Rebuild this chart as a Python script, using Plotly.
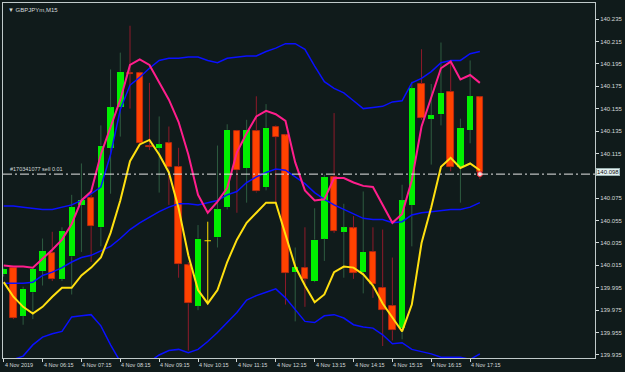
import plotly.graph_objects as go

# ---- data (GBPJPYm, M15, 4 Nov 2019 from 05:15, 15-min bars) ----
opens = [140.007, 140.013, 139.970, 139.991, 140.010, 140.026, 140.003, 140.023, 140.069, 140.075,
         140.049, 140.120, 140.156, 140.187, 140.187, 140.122, 140.120, 140.124, 140.103, 140.015,
         139.979, 140.037, 140.040, 140.067, 140.135, 140.102, 140.135, 140.085, 140.139, 140.131,
         140.009, 140.013, 140.001, 140.039, 140.094, 140.045, 140.048, 140.009, 140.027, 139.995,
         139.979, 139.959, 140.069, 140.177, 140.146, 140.150, 140.170, 140.103, 140.136, 140.165]
highs = [140.013, 140.014, 139.996, 140.013, 140.039, 140.045, 140.049, 140.078, 140.106, 140.078,
         140.140, 140.190, 140.205, 140.229, 140.188, 140.178, 140.148, 140.139, 140.120, 140.018,
         140.051, 140.054, 140.122, 140.141, 140.136, 140.145, 140.166, 140.159, 140.140, 140.132,
         140.031, 140.049, 140.066, 140.096, 140.151, 140.070, 140.059, 140.081, 140.049, 140.047,
         140.022, 140.087, 140.179, 140.208, 140.177, 140.214, 140.196, 140.146, 140.198, 140.166]
lows = [140.005, 139.967, 139.962, 139.967, 139.997, 140.001, 140.001, 139.989, 140.027, 140.018,
        140.032, 140.079, 140.130, 140.155, 140.122, 140.118, 140.080, 140.069, 140.004, 139.939,
        139.975, 139.981, 140.031, 140.065, 140.062, 140.071, 140.080, 140.082, 140.071, 139.980,
        139.965, 139.978, 140.000, 140.019, 140.044, 140.004, 140.003, 139.990, 139.986, 139.943,
        139.948, 139.949, 140.032, 140.145, 140.105, 140.140, 140.099, 140.071, 140.124, 140.092]
closes = [140.012, 139.968, 139.994, 140.012, 140.028, 140.003, 140.046, 140.067, 140.073, 140.050,
          140.122, 140.156, 140.188, 140.186, 140.124, 140.121, 140.123, 140.103, 140.016, 139.981,
          140.039, 140.037, 140.065, 140.136, 140.100, 140.136, 140.081, 140.138, 140.130, 140.008,
          140.014, 140.003, 140.038, 140.094, 140.046, 140.049, 140.008, 140.027, 139.998, 139.975,
          139.957, 140.073, 140.173, 140.147, 140.149, 140.169, 140.103, 140.138, 140.166, 140.098]

bb_upper = [140.068, 140.068, 140.067, 140.066, 140.065, 140.065, 140.067, 140.069, 140.073, 140.079,
            140.085, 140.114, 140.154, 140.176, 140.183, 140.191, 140.198, 140.200, 140.200, 140.201,
            140.201, 140.198, 140.196, 140.200, 140.201, 140.202, 140.202, 140.206, 140.209, 140.213,
            140.213, 140.208, 140.193, 140.179, 140.173, 140.169, 140.162, 140.155, 140.156, 140.157,
            140.161, 140.162, 140.178, 140.182, 140.188, 140.196, 140.198, 140.198, 140.204, 140.206]
bb_middle = [139.999, 139.999, 139.999, 140.000, 140.006, 140.009, 140.013, 140.018, 140.022, 140.024,
             140.028, 140.032, 140.039, 140.047, 140.053, 140.058, 140.063, 140.067, 140.070, 140.070,
             140.069, 140.071, 140.073, 140.078, 140.081, 140.089, 140.094, 140.098, 140.101, 140.100,
             140.094, 140.088, 140.080, 140.074, 140.069, 140.065, 140.061, 140.057, 140.056, 140.056,
             140.053, 140.054, 140.060, 140.062, 140.063, 140.064, 140.065, 140.065, 140.067, 140.071]
bb_lower = [139.926, 139.931, 139.934, 139.944, 139.951, 139.954, 139.956, 139.969, 139.970, 139.971,
            139.961, 139.944, 139.929, 139.922, 139.920, 139.929, 139.935, 139.939, 139.940, 139.937,
            139.940, 139.947, 139.955, 139.964, 139.973, 139.984, 139.988, 139.991, 139.994, 139.986,
            139.975, 139.965, 139.964, 139.970, 139.971, 139.968, 139.962, 139.960, 139.959, 139.953,
            139.945, 139.946, 139.940, 139.938, 139.936, 139.933, 139.933, 139.933, 139.931, 139.936]
ma_pink = [140.015, 140.014, 140.014, 140.013, 140.021, 140.029, 140.038, 140.052, 140.073, 140.081,
           140.114, 140.139, 140.163, 140.194, 140.199, 140.194, 140.178, 140.163, 140.143, 140.114,
           140.078, 140.062, 140.072, 140.084, 140.116, 140.133, 140.148, 140.153, 140.150, 140.144,
           140.107, 140.082, 140.073, 140.074, 140.093, 140.093, 140.089, 140.086, 140.085, 140.069,
           140.053, 140.061, 140.091, 140.139, 140.165, 140.191, 140.197, 140.181, 140.185, 140.178]
ma_yellow = [140.000, 139.987, 139.978, 139.972, 139.978, 139.987, 139.995, 139.995, 140.006, 140.013,
             140.022, 140.044, 140.073, 140.108, 140.123, 140.127, 140.114, 140.098, 140.066, 140.024,
             139.993, 139.981, 139.993, 140.018, 140.038, 140.053, 140.062, 140.071, 140.071, 140.042,
             140.014, 139.997, 139.982, 139.989, 140.009, 140.014, 140.013, 140.007, 139.997, 139.981,
             139.968, 139.956, 139.980, 140.035, 140.067, 140.103, 140.111, 140.102, 140.106, 140.100]

xtick_idx = [0, 4, 8, 12, 16, 20, 24, 28, 32, 36, 40, 44, 48]
xtick_labels = ["4 Nov 2019", "4 Nov 06:15", "4 Nov 07:15", "4 Nov 08:15", "4 Nov 09:15",
                "4 Nov 10:15", "4 Nov 11:15", "4 Nov 12:15", "4 Nov 13:15", "4 Nov 14:15",
                "4 Nov 15:15", "4 Nov 16:15", "4 Nov 17:15"]
ytick_vals = [139.935, 139.955, 139.975, 139.995, 140.015, 140.035, 140.055, 140.075,
              140.095, 140.115, 140.135, 140.155, 140.175, 140.195, 140.215, 140.235]
order_price = 140.0965
bid_price = 140.098
order_label = "#170341077 sell 0.01"
title_text = "GBPJPYm,M15"

BG = "#101b1b"
FG = "#d4dada"
FONT = "Liberation Sans, Arial, sans-serif"
UP_BODY, UP_WICK = "#00f000", "#2e5c40"
DN_BODY, DN_WICK = "#ff4200", "#8e1a2a"
DOJI = "#ffe000"
BW = 0.66

up = dict(x=[], base=[], h=[])
dn = dict(x=[], base=[], h=[])
wick = {"up": ([], []), "dn": ([], []), "doji": ([], [])}
doji_bar = ([], [])
for i, (o, h, l, c) in enumerate(zip(opens, highs, lows, closes)):
    top, bot = max(o, c), min(o, c)
    if c > o:
        key, grp = "up", up
    elif c < o:
        key, grp = "dn", dn
    else:
        key, grp = "doji", None
    wx, wy = wick[key]
    if grp is not None:
        grp["x"].append(i); grp["base"].append(bot); grp["h"].append(top - bot)
        wx += [i, i, None, i, i, None]
        wy += [h, top, None, bot, l, None]
    else:
        wx += [i, i, None]
        wy += [h, l, None]
        doji_bar[0].extend([i - BW / 2, i + BW / 2, None])
        doji_bar[1].extend([o, o, None])

fig = go.Figure()
fig.add_trace(go.Bar(x=up["x"], y=up["h"], base=up["base"], width=BW,
                     marker=dict(color=UP_BODY, line=dict(color=UP_BODY, width=0))))
fig.add_trace(go.Bar(x=dn["x"], y=dn["h"], base=dn["base"], width=BW,
                     marker=dict(color=DN_BODY, line=dict(color="#c52a10", width=0.8))))
for key, col in (("up", UP_WICK), ("dn", DN_WICK), ("doji", DOJI)):
    fig.add_trace(go.Scatter(x=wick[key][0], y=wick[key][1], mode="lines",
                             line=dict(color=col, width=1)))
fig.add_trace(go.Scatter(x=doji_bar[0], y=doji_bar[1], mode="lines", line=dict(color=DOJI, width=1)))

idx = list(range(len(opens)))
for series, col, w in ((bb_upper, "#0a10ff", 1.5), (bb_middle, "#0a10ff", 1.5), (bb_lower, "#0a10ff", 1.5),
                       (ma_pink, "#ff1e8c", 2), (ma_yellow, "#ffe010", 2)):
    fig.add_trace(go.Scatter(x=idx, y=series, mode="lines", line=dict(color=col, width=w)))

# order marker on last bar
fig.add_trace(go.Scatter(x=[idx[-1]], y=[order_price], mode="markers",
                         marker=dict(size=5, color="#f0d0d0", line=dict(color="#ff3040", width=1))))

fig.add_shape(type="line", xref="paper", x0=0, x1=1, yref="y", y0=order_price, y1=order_price,
              line=dict(color="#e6e6e6", width=1, dash="9px,3px,2px,3px"))

ann = []
for xi, t in zip(xtick_idx, xtick_labels):
    ann.append(dict(x=xi, xref="x", y=0, yref="paper", yanchor="top", xanchor="left",
                    yshift=-2, xshift=-1, text=t, showarrow=False,
                    font=dict(family=FONT, size=5.5, color=FG)))
ann.append(dict(x=0, xref="paper", y=order_price, yref="y", xanchor="left", yanchor="bottom",
                xshift=5, yshift=0, text=order_label, showarrow=False,
                font=dict(family=FONT, size=5.5, color=FG)))
ann.append(dict(x=0, xref="paper", y=1, yref="paper", xanchor="left", yanchor="top",
                xshift=3, yshift=-2, text="\u25BC " + title_text, showarrow=False,
                font=dict(family=FONT, size=6, color=FG)))
ann.append(dict(x=1, xref="paper", y=bid_price, yref="y", xanchor="left", yanchor="middle",
                xshift=1, text=f"{bid_price:.3f}", showarrow=False, bgcolor="#e4f2f2",
                bordercolor="#9ab0b0", borderwidth=1, borderpad=0,
                font=dict(family=FONT, size=6, color="#101010")))

# the 140.095 level label is hidden behind the bid price box in the reference
ytick_text = ["" if abs(v - 140.095) < 1e-9 else f"{v:.3f}" for v in ytick_vals]

fig.update_layout(
    width=625, height=372, margin=dict(l=3, r=28, t=2, b=14),
    paper_bgcolor=BG, plot_bgcolor=BG, showlegend=False, bargap=0,
    annotations=ann,
    xaxis=dict(range=[-0.07, 60.85], tickvals=xtick_idx, showticklabels=False,
               ticks="outside", ticklen=3, tickcolor=FG, showgrid=False, zeroline=False,
               showline=True, linecolor="#c0caca", linewidth=1, mirror=True, fixedrange=True),
    yaxis=dict(range=[139.9323, 140.2493], side="right", tickvals=ytick_vals, ticktext=ytick_text,
               ticks="outside", ticklen=3, tickcolor=FG,
               tickfont=dict(family=FONT, size=6, color=FG), showgrid=False, zeroline=False,
               showline=True, linecolor="#c0caca", linewidth=1, mirror=True, fixedrange=True),
)

fig.write_html("out.html")
